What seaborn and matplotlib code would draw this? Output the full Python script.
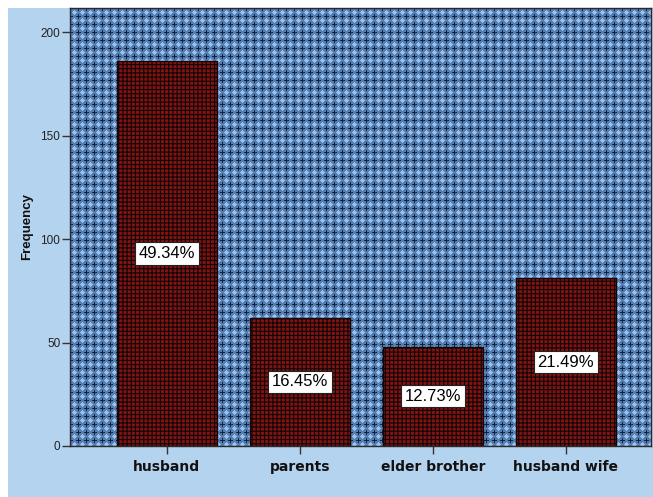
import matplotlib
matplotlib.use("Agg")
import matplotlib.pyplot as plt
from matplotlib.patches import Rectangle
import numpy as np
import seaborn as sns
import pandas as pd

# Data
categories = ["husband", "parents", "elder brother", "husband wife"]
percents = [49.34, 16.45, 12.73, 21.49]
total_n = 377
counts = [p * total_n / 100 for p in percents]
y_ticks = [0, 50, 100, 150, 200]

df = pd.DataFrame({"relation": categories, "count": counts, "pct": percents})

sns.set_style("white")
plt.rcParams["hatch.linewidth"] = 1.0

W, H = 653, 497
AX_L, AX_R, AX_T, AX_B = 70, 651, 8, 446  # plot area in pixels (from top-left)

fig = plt.figure(figsize=(W / 100, H / 100), dpi=100)
fig.patch.set_facecolor("white")
# light blue chart background
fig.add_artist(Rectangle((8 / W, 0), 1 - 8 / W, (H - 8) / H, transform=fig.transFigure,
                         facecolor="#b4d3ef", edgecolor="none", zorder=-10))


def cross_texture(h, w, period=8):
    """Blue fill with dark crosses and light diamonds on a square lattice."""
    dark = np.array([0x16, 0x22, 0x38]) / 255
    mid = np.array([0x52, 0x7e, 0xb4]) / 255
    light = np.array([0x9c, 0xc0, 0xe8]) / 255
    tile = np.empty((period, period, 3))
    half = period // 2
    for r in range(period):
        for c in range(period):
            dr, dc = min(r, period - r), min(c, period - c)
            if (dr == 0 and dc <= 2) or (dc == 0 and dr <= 2):
                tile[r, c] = dark
            elif abs(r - half) + abs(c - half) <= 2:
                tile[r, c] = light
            else:
                tile[r, c] = mid
    reps = (h // period + 2, w // period + 2, 1)
    return np.tile(tile, reps)[:h, :w]


tex = cross_texture(AX_B - AX_T, AX_R - AX_L)
fig.figimage(tex, xo=AX_L, yo=H - AX_B, zorder=-5)

ax = fig.add_axes([AX_L / W, (H - AX_B) / H, (AX_R - AX_L) / W, (AX_B - AX_T) / H])
ax.patch.set_alpha(0)

sns.barplot(data=df, x="relation", y="count", order=categories, ax=ax,
            color="#821313", width=0.75, saturation=1, edgecolor="#1a0a0a",
            linewidth=1.0, errorbar=None, zorder=2)

for bar in ax.patches:
    bar.set_hatch("++++")
    bar.set_edgecolor("#120606")
    if hasattr(bar, "set_hatch_linewidth"):
        bar.set_hatch_linewidth(0.8)

# percentage labels at mid-height of each bar
for i, (c, p) in enumerate(zip(counts, percents)):
    ax.text(i, c / 2, f"{p:.2f}%", ha="center", va="center", fontsize=12,
            family="Liberation Sans", color="black", zorder=5,
            bbox=dict(boxstyle="square,pad=0.22", facecolor="white",
                      edgecolor="#222222", linewidth=0.8))

ax.set_xlim(-0.728, 3.64)
ax.set_ylim(0, 211.6)
ax.set_yticks(y_ticks)
ax.set_yticklabels([str(v) for v in y_ticks], family="Liberation Sans",
                   fontsize=8.5, color="#222222")
ax.set_xticks(range(len(categories)))
ax.set_xticklabels(categories, fontweight="bold", fontsize=10, color="#111111")
ax.tick_params(axis="both", which="both", length=6, width=1, color="#333333",
               direction="out", left=True, bottom=True)
ax.tick_params(axis="x", pad=4)
ax.tick_params(axis="y", pad=1)
ax.set_xlabel("")
ax.set_ylabel("Frequency", family="Liberation Sans", fontweight="bold",
              fontsize=9.5, color="#111111", labelpad=5)
for s in ax.spines.values():
    s.set_visible(True)
    s.set_color("#2a2a2a")
    s.set_linewidth(1)
    s.set_zorder(3)

fig.savefig("out.png", dpi=100, facecolor=fig.get_facecolor())
